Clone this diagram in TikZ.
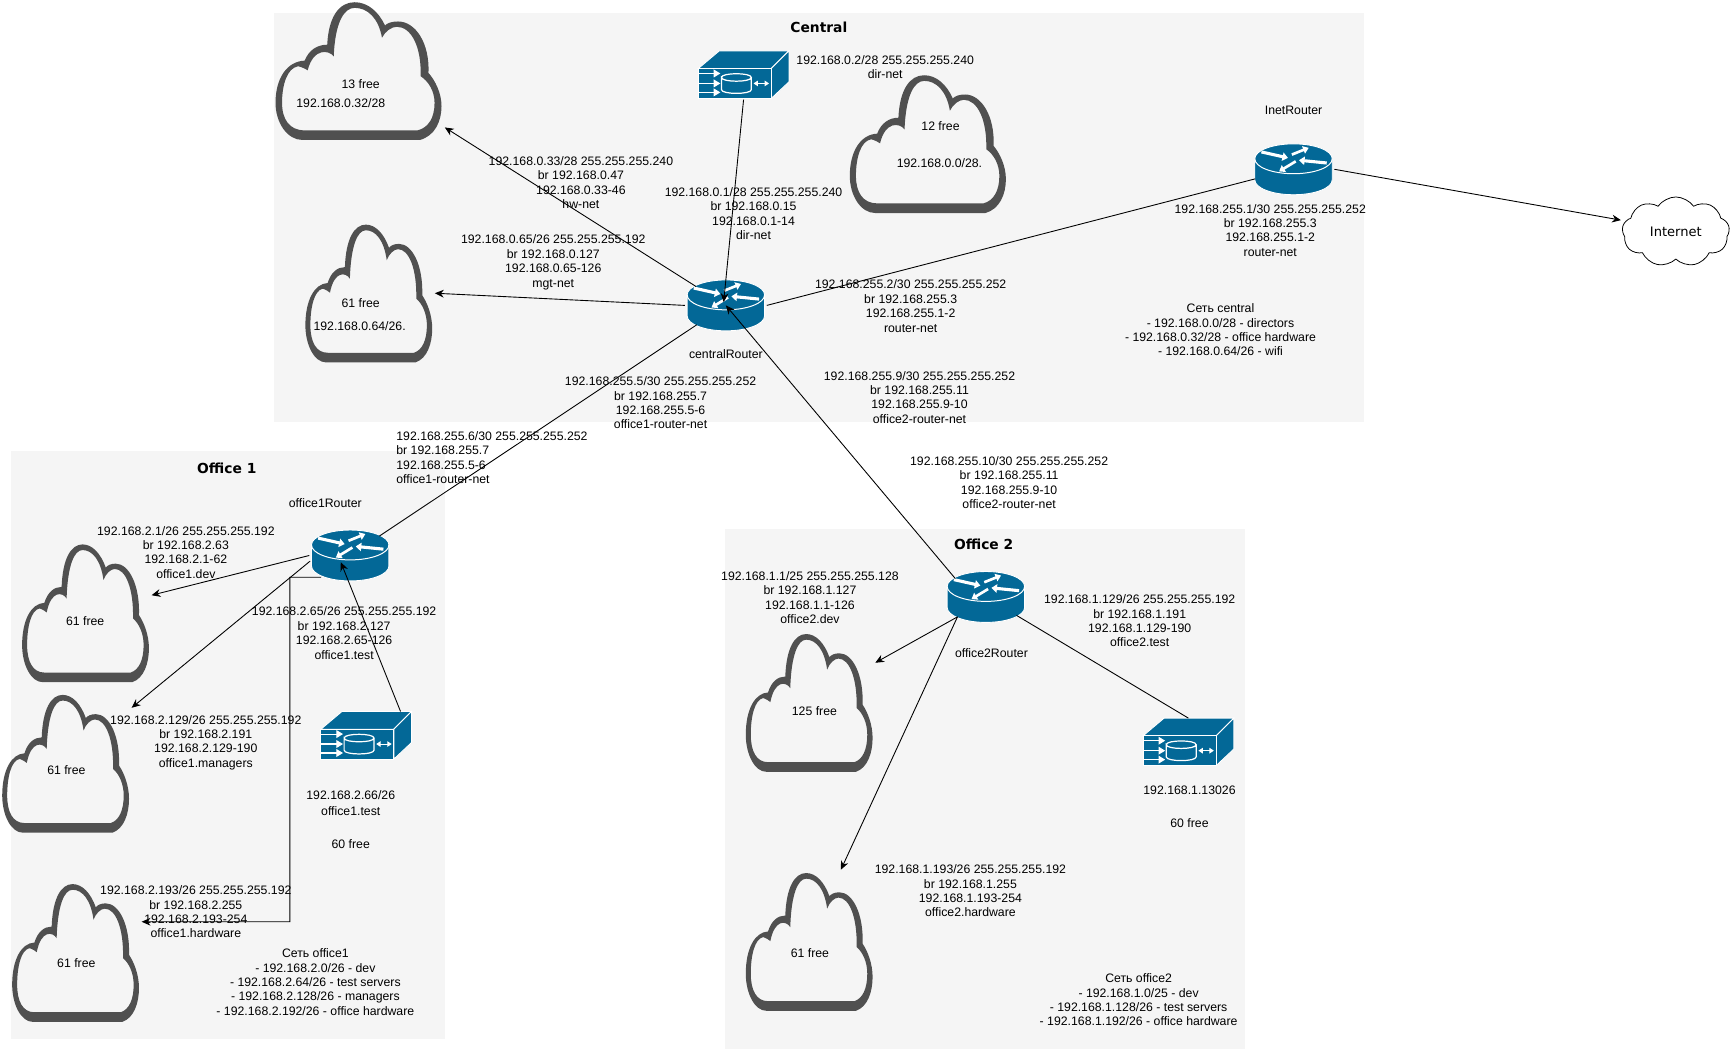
\documentclass[tikz,border=0pt]{standalone}
\usepackage{fontspec}
\setmainfont{Liberation Sans}
\newfontfamily\titlefont{DejaVu Sans}
\usetikzlibrary{arrows.meta,shapes.geometric,shapes.symbols}
\definecolor{panelgray}{HTML}{F5F5F5}
\definecolor{ciscoblue}{HTML}{036897}
\definecolor{cloudgray}{HTML}{505050}
\begin{document}
\begin{tikzpicture}[
		x=1pt, y=-1pt,
		>={Stealth[length=8pt,width=7pt]},
		panel/.style={fill=panelgray, draw=none},
		netlabel/.style={font=\fontsize{11.1}{13}\selectfont, align=center, inner sep=0pt, yshift=-0.6pt},
		paneltitle/.style={font=\titlefont\bfseries\fontsize{12.5}{14}\selectfont, inner sep=0pt},
		link/.style={draw=black, line width=0.8pt},
		routernode/.style={ellipse, minimum width=72pt, minimum height=48pt, inner sep=0pt, outer sep=1pt},
		switchnode/.style={rectangle, minimum width=82pt, minimum height=44pt, inner sep=0pt, outer sep=0pt},
		cloudnode/.style={rectangle, minimum height=124pt, inner sep=0pt, outer sep=3pt},
		netcloud/.pic={
			\begin{scope}[scale=0.3, shift={(-33,-27)}]
				\fill[cloudgray, even odd rule]
				(95,442) -- (365,442) .. controls (400,430) and (415,385) .. (415,340)
				.. controls (415,300) and (400,262) .. (385,240)
				.. controls (388,150) and (355,85) .. (315,85)
				.. controls (300,85) and (290,90) .. (285,97)
				.. controls (270,55) and (245,27) .. (215,27)
				.. controls (180,27) and (155,70) .. (152,155)
				.. controls (130,155) and (110,170) .. (100,203)
				.. controls (60,205) and (33,255) .. (33,330)
				.. controls (33,390) and (60,442) .. (95,442) -- cycle
				(100,413) -- (360,413) .. controls (385,405) and (399,375) .. (399,330)
				.. controls (399,295) and (385,265) .. (367,250)
				.. controls (369,160) and (345,101) .. (312,101)
				.. controls (300,101) and (285,115) .. (278,134)
				.. controls (270,75) and (245,44) .. (215,44)
				.. controls (190,44) and (170,90) .. (167,190)
				.. controls (155,170) and (120,165) .. (107,232)
				.. controls (95,222) and (85,220) .. (85,220)
				.. controls (60,225) and (48,275) .. (48,330)
				.. controls (48,380) and (65,413) .. (100,413) -- cycle;
			\end{scope}
		},
		routericon/.pic={
			\path[fill=ciscoblue, draw=white, line width=0.8pt]
			(-35,-9.5) -- (-35,9.5) .. controls (-35,17) and (-19.3,23) .. (0,23)
			.. controls (19.3,23) and (35,17) .. (35,9.5) -- (35,-9.5)
			.. controls (35,-17) and (19.3,-23) .. (0,-23)
			.. controls (-19.3,-23) and (-35,-17) .. cycle;
			\draw[white, line width=0.9pt] (-35,-9.5) .. controls (-35,-2) and (-19.3,4) .. (0,4)
			.. controls (19.3,4) and (35,-2) .. (35,-9.5);
			\draw[white, line width=2.8pt, -{Triangle[length=5pt,width=7.5pt]}] (-29,-15.7) -- (-5,-10.3);
			\draw[white, line width=2.8pt, -{Triangle[length=5pt,width=7.5pt]}] (30,-5.7) -- (5,-8.2);
			\draw[white, line width=2.4pt, -{Triangle[length=5pt,width=7pt]}] (-1.5,-13.3) -- (13.7,-19.4);
			\draw[white, line width=2.4pt, -{Triangle[length=5pt,width=7pt]}] (2,-7.2) -- (-13,1.9);
		},
		switchicon/.pic={
			\path[fill=ciscoblue, draw=white, line width=0.8pt] (-41,-6) -- (-22,-22) -- (41,-22) -- (25,-6) -- cycle;
			\path[fill=ciscoblue, draw=white, line width=0.8pt] (25,-6) -- (41,-22) -- (41,6) -- (25,21) -- cycle;
			\path[fill=ciscoblue, draw=white, line width=0.8pt] (-41,-6) rectangle (25,21);
			\foreach \yrow in {-1.6,7.4,15.5}{
				\draw[white, line width=1pt, -{Triangle[length=6pt,width=7pt]}] (-41,\yrow) -- (-21,\yrow);
			}
			\draw[white, line width=1.1pt] (-20,2) .. controls (-20,-2.5) and (7,-2.5) .. (7,2)
			.. controls (7,6.5) and (-20,6.5) .. (-20,2) -- (-20,13)
			.. controls (-20,17.5) and (7,17.5) .. (7,13) -- (7,2);
			\draw[white, line width=0.9pt, {Triangle[length=4pt,width=5pt]}-{Triangle[length=4pt,width=5pt]}] (9,7.4) -- (23,7.4);
		},
		]
		\useasboundingbox (0,0) rectangle (1568,956);
		
		% panels
		\fill[panel] (248,12) rectangle (1233,381);
		\fill[panel] (10,408) rectangle (402,939);
		\fill[panel] (655,478) rectangle (1125,948);
		\node[paneltitle] (centralTitle) at (740,25) {Central};
		\node[paneltitle] (office1Title) at (205,423) {Office 1};
		\node[paneltitle] (office2Title) at (889,492) {Office 2};
		
		% clouds
		\node[cloudnode, minimum width=150pt] (hwCloud) at (324,64.5) {};
		\node[cloudnode, minimum width=141pt] (dirCloud) at (838.5,130) {};
		\node[cloudnode, minimum width=114pt] (mgtCloud) at (333,265) {};
		\node[cloudnode, minimum width=114pt] (devCloudA) at (77,554) {};
		\node[cloudnode, minimum width=114pt] (managersCloudA) at (59,690) {};
		\node[cloudnode, minimum width=114pt] (hwCloudA) at (68,861) {};
		\node[cloudnode, minimum width=114pt] (devCloudB) at (731,635) {};
		\node[cloudnode, minimum width=114pt] (hwCloudB) at (731,851) {};
		\pic[xscale=1.309] at (249,2) {netcloud};
		\pic[xscale=1.231] at (768,68) {netcloud};
		\pic at (276,203) {netcloud};
		\pic at (20,492) {netcloud};
		\pic at (2,628) {netcloud};
		\pic at (11,799) {netcloud};
		\pic at (674,573) {netcloud};
		\pic at (674,789) {netcloud};
		\node[cloud, draw=black, fill=white, line width=0.7pt, cloud puffs=9, cloud puff arc=110, aspect=1.7, minimum width=97pt, minimum height=63pt, inner sep=0pt, outer sep=4pt, font=\titlefont\fontsize{11.8}{13}\selectfont] (internet) at (1514.5,209.5) {Internet\hspace{3pt}};
		
		% routers and switches
		\node[routernode] (centralRouter) at (656,276) {};
		\node[routernode] (inetRouter) at (1169,153) {};
		\node[routernode] (office1Router) at (316.5,502) {};
		\node[routernode] (office2Router) at (891,539.5) {};
		\node[switchnode] (dirSwitch) at (672,68) {};
		\node[switchnode] (office1Switch) at (331,665) {};
		\node[switchnode] (office2Switch) at (1074,671) {};
		\pic at (656,276) {routericon};
		\pic at (1169,153) {routericon};
		\pic at (316.5,502) {routericon};
		\pic at (891,539.5) {routericon};
		\pic at (672,68) {switchicon};
		\pic at (331,665) {switchicon};
		\pic at (1074,671) {switchicon};
		
		% links
		\coordinate (office1Turn) at (262,833);
		\draw[link, ->] (centralRouter) -- (hwCloud.-33);
		\draw[link, ->] (centralRouter.west) -- (mgtCloud.east);
		\draw[link, ->] (dirSwitch.south) -- ([xshift=-2,yshift=3]centralRouter.center);
		\draw[link] (centralRouter.east) -- (inetRouter.194);
		\draw[link, ->] (inetRouter.east) -- (internet.168);
		\draw[link] (centralRouter) -- (office1Router);
		\draw[link, ->] (office2Router.149) -- (centralRouter.center);
		\draw[link, ->] (office1Router.west) -- (devCloudA.15);
		\draw[link, ->] (office1Router.188) -- (managersCloudA.40);
		\draw[link, ->] ([yshift=-2]office1Router.214) -| (office1Turn) -- (hwCloudA.25);
		\draw[link, ->] ([xshift=31]office1Switch.north) -- ([xshift=-8.5,yshift=-6]office1Router.center);
		\draw[link, ->] (office2Router.215) -- (devCloudB.31);
		\draw[link, ->] (office2Router.215) -- (hwCloudB.66);
		\draw[link] (office2Router.329) -- (office2Switch.north);
		
		% central labels
		\node[netlabel] (hwFree) at (326,75) {13 free};
		\node[netlabel] (hwNet) at (308,93) {192.168.0.32/28};
		\node[netlabel] (dirFree) at (850,113) {12 free};
		\node[netlabel] (dirNet) at (849,147) {192.168.0.0/28.};
		\node[netlabel] (mgtFree) at (326,273) {61 free};
		\node[netlabel] (mgtNet) at (325,294) {192.168.0.64/26.};
		\node[netlabel] (dirSwitchAddr) at (800,60) {192.168.0.2/28 255.255.255.240\\dir-net};
		\node[netlabel] (hwAddr) at (525,164.5) {192.168.0.33/28 255.255.255.240\\br 192.168.0.47\\192.168.0.33-46\\hw-net};
		\node[netlabel] (dirAddr) at (681,192.5) {192.168.0.1/28 255.255.255.240\\br 192.168.0.15\\192.168.0.1-14\\dir-net};
		\node[netlabel] (mgtAddr) at (500,236.5) {192.168.0.65/26 255.255.255.192\\br 192.168.0.127\\192.168.0.65-126\\mgt-net};
		\node[netlabel] (routerAddr) at (823,276) {192.168.255.2/30 255.255.255.252\\br 192.168.255.3\\192.168.255.1-2\\router-net};
		\node[netlabel] (inetAddr) at (1148,207.5) {192.168.255.1/30 255.255.255.252\\br 192.168.255.3\\192.168.255.1-2\\router-net};
		\node[netlabel] (inetName) at (1169,99) {InetRouter};
		\node[netlabel] (centralName) at (656,319) {centralRouter};
		\node[netlabel] (centralNets) at (1103,297.5) {Сеть central\\- 192.168.0.0/28 - directors\\- 192.168.0.32/28 - office hardware\\- 192.168.0.64/26 - wifi};
		\node[netlabel] (office2Uplink) at (831,358.5) {192.168.255.9/30 255.255.255.252\\br 192.168.255.11\\192.168.255.9-10\\office2-router-net};
		\node[netlabel] (office1Uplink) at (597,363.5) {192.168.255.5/30 255.255.255.252\\br 192.168.255.7\\192.168.255.5-6\\office1-router-net};
		
		% office 1 labels
		\node[netlabel, anchor=west, align=left] (office1Addr) at (358,413) {192.168.255.6/30 255.255.255.252\\br 192.168.255.7\\192.168.255.5-6\\office1-router-net};
		\node[netlabel] (office1Name) at (294,454) {office1Router};
		\node[netlabel] (devAddrA) at (168,498.5) {192.168.2.1/26 255.255.255.192\\br 192.168.2.63\\192.168.2.1-62\\office1.dev};
		\node[netlabel] (testAddrA) at (311,571.5) {192.168.2.65/26 255.255.255.192\\br 192.168.2.127\\192.168.2.65-126\\office1.test};
		\node[netlabel] (managersAddrA) at (186,670.5) {192.168.2.129/26 255.255.255.192\\br 192.168.2.191\\192.168.2.129-190\\office1.managers};
		\node[netlabel] (switchAddrA) at (317,740) {192.168.2.66/26\\[1pt]office1.test\\[1pt]\mbox{}\\[3pt]60 free};
		\node[netlabel] (hwAddrA) at (177,823.5) {192.168.2.193/26 255.255.255.192\\br 192.168.2.255\\192.168.2.193-254\\office1.hardware};
		\node[netlabel] (office1Nets) at (285,887) {Сеть office1\\- 192.168.2.0/26 - dev\\- 192.168.2.64/26 - test servers\\- 192.168.2.128/26 - managers\\- 192.168.2.192/26 - office hardware};
		\node[netlabel] (devFreeA) at (77,561) {61 free};
		\node[netlabel] (managersFreeA) at (60,695) {61 free};
		\node[netlabel] (hwFreeA) at (69,870) {61 free};
		
		% office 2 labels
		\node[netlabel] (office2Addr) at (912,435.5) {192.168.255.10/30 255.255.255.252\\br 192.168.255.11\\192.168.255.9-10\\office2-router-net};
		\node[netlabel] (office2Name) at (896,590) {office2Router};
		\node[netlabel] (devAddrB) at (732,539.5) {192.168.1.1/25 255.255.255.128\\br 192.168.1.127\\192.168.1.1-126\\office2.dev};
		\node[netlabel] (testAddrB) at (1030,560.5) {192.168.1.129/26 255.255.255.192\\br 192.168.1.191\\192.168.1.129-190\\office2.test};
		\node[netlabel] (switchAddrB) at (1075,728.5) {192.168.1.13026\\[1.5pt]\mbox{}\\[1.5pt]60 free};
		\node[netlabel] (hwAddrB) at (877,804.5) {192.168.1.193/26 255.255.255.192\\br 192.168.1.255\\192.168.1.193-254\\office2.hardware};
		\node[netlabel] (office2Nets) at (1029,903) {Сеть office2\\- 192.168.1.0/25 - dev\\- 192.168.1.128/26 - test servers\\- 192.168.1.192/26 - office hardware};
		\node[netlabel] (devFreeB) at (736,642) {125 free};
		\node[netlabel] (hwFreeB) at (732,861) {61 free};
	\end{tikzpicture}
\end{document}
